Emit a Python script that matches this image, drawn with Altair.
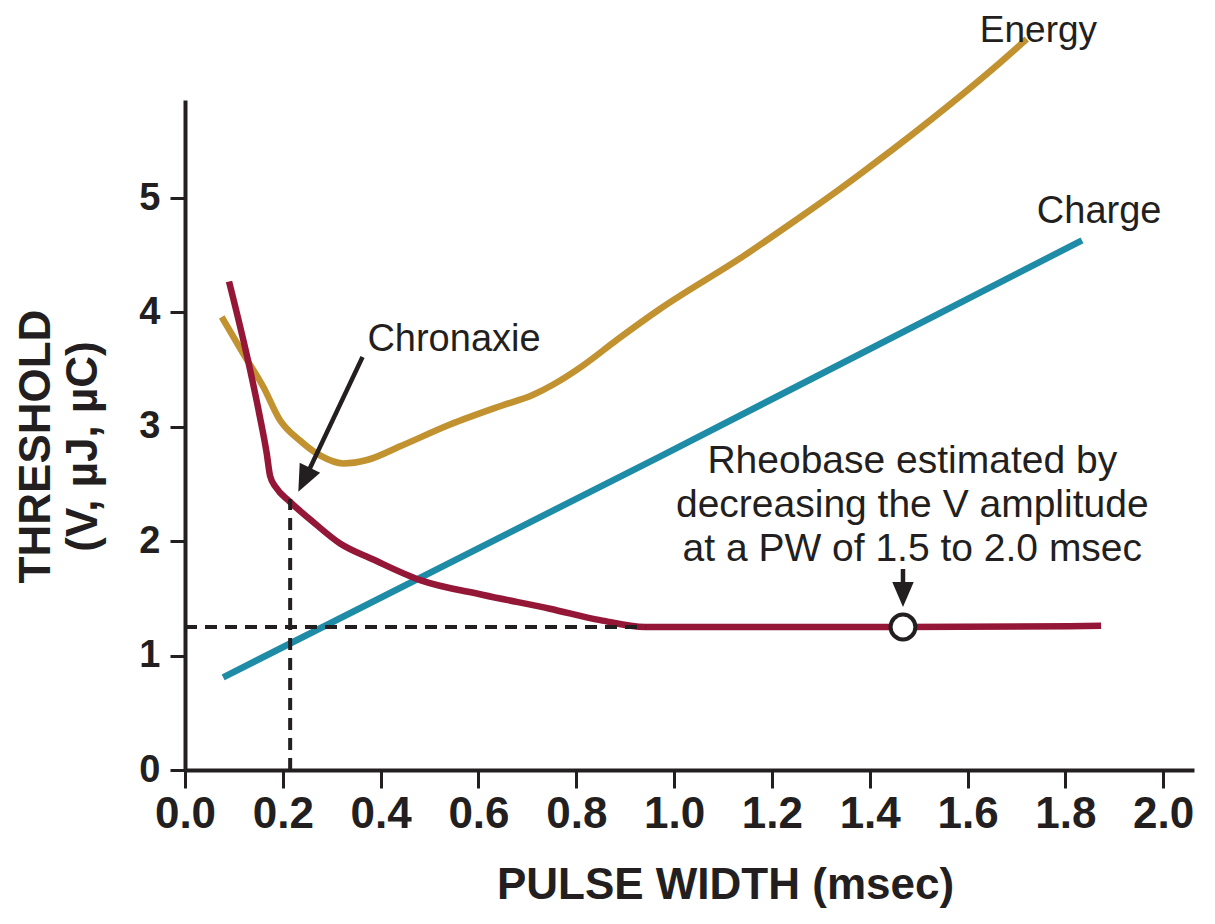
import altair as alt
import pandas as pd

# ---- data ----
volt_pw = [0.090, 0.133, 0.153, 0.167, 0.174, 0.186, 0.213, 0.256, 0.317, 0.385,
           0.481, 0.610, 0.746, 0.849, 0.941, 1.200, 1.468, 1.873]
volt_thr = [4.27, 3.50, 3.09, 2.77, 2.57, 2.47, 2.35, 2.19, 1.98, 1.84,
            1.66, 1.53, 1.41, 1.31, 1.25, 1.25, 1.25, 1.26]

energy_pw = [0.075, 0.119, 0.160, 0.194, 0.235, 0.276, 0.324, 0.372, 0.440, 0.542,
             0.644, 0.712, 0.753, 0.815, 0.883, 0.971, 1.141, 1.250, 1.323, 1.374,
             1.506, 1.652, 1.721]
energy_thr = [3.96, 3.64, 3.35, 3.06, 2.88, 2.75, 2.68, 2.71, 2.83, 3.02,
              3.18, 3.28, 3.37, 3.54, 3.76, 4.03, 4.49, 4.81, 5.03, 5.19,
              5.62, 6.13, 6.39]

charge_pw = [0.078, 0.971, 1.834]
charge_thr = [0.81, 2.74, 4.63]

series_names = ["Energy", "Charge", "Voltage"]
series_colors = ["#C1922F", "#1E8BA7", "#951737"]

x_ticks = [0.0, 0.2, 0.4, 0.6, 0.8, 1.0, 1.2, 1.4, 1.6, 1.8, 2.0]
y_ticks = [0, 1, 2, 3, 4, 5]

# chronaxie / rheobase reference values
chronaxie_pw = 0.215
chronaxie_thr = 2.37
rheobase_thr = 1.25
rheobase_pw_end = 0.941
rheobase_marker_pw = 1.468

# annotation anchors (data units)
label_text = ["Chronaxie", "Energy", "Charge"]
label_pw = [0.550, 1.745, 1.869]
label_thr = [3.66, 6.364, 4.78]
label_size = [38, 37, 38]

rheo_lines = ["Rheobase estimated by", "decreasing the V amplitude", "at a PW of 1.5 to 2.0 msec"]
rheo_text_pw = 1.487
rheo_text_thr = 2.867

arrow_start_pw = [0.363, 1.468]
arrow_start_thr = [3.61, 1.757]
arrow_shaft_end_pw = [0.244, 1.468]
arrow_shaft_end_thr = [2.535, 1.52]
arrow_tip_pw = [0.2317, 1.468]
arrow_tip_thr = [2.433, 1.425]
arrow_angle = [26, 0]
arrow_size = [2809, 2500]

# ---- frames ----
lines_df = pd.DataFrame({
    "pw": energy_pw + charge_pw + volt_pw,
    "thr": energy_thr + charge_thr + volt_thr,
    "series": ["Energy"] * len(energy_pw) + ["Charge"] * len(charge_pw) + ["Voltage"] * len(volt_pw),
    "ord": list(range(len(energy_pw))) + list(range(len(charge_pw))) + list(range(len(volt_pw))),
})

dash_df = pd.DataFrame({
    "x0": [chronaxie_pw, 0.0],
    "x1": [chronaxie_pw, rheobase_pw_end],
    "y0": [0.0, rheobase_thr],
    "y1": [chronaxie_thr, rheobase_thr],
})

shaft_df = pd.DataFrame({
    "x0": arrow_start_pw, "x1": arrow_shaft_end_pw,
    "y0": arrow_start_thr, "y1": arrow_shaft_end_thr,
})

head_df = pd.DataFrame({"pw": arrow_tip_pw, "thr": arrow_tip_thr,
                        "ang": arrow_angle, "sz": arrow_size})

marker_df = pd.DataFrame({"pw": [rheobase_marker_pw], "thr": [rheobase_thr]})
labels_df = pd.DataFrame({"pw": label_pw, "thr": label_thr, "txt": label_text, "fs": label_size})
rheo_df = pd.DataFrame({"pw": [rheo_text_pw], "thr": [rheo_text_thr], "txt": ["\n".join(rheo_lines)]})

FONT = "Liberation Sans, Arial, Helvetica, sans-serif"
INK = "#231f20"

x_scale = alt.Scale(domain=[0, 2.063], nice=False, zero=False)
y_scale = alt.Scale(domain=[0, 5.857], nice=False, zero=False)

x_axis = alt.Axis(
    values=x_ticks, format=".1f", title="PULSE WIDTH (msec)", grid=False,
    domainColor=INK, domainWidth=4, tickColor=INK, tickWidth=3, tickSize=18,
    labelFont=FONT, labelFontSize=44, labelFontWeight="bold", labelColor=INK,
    labelPadding=4, labelFlush=False, labelOverlap=False,
    titleFont=FONT, titleFontSize=44, titleFontWeight="bold", titleColor=INK,
    titleX=540, titleY=128, titleBaseline="alphabetic", titleAlign="center",
)
y_axis = alt.Axis(
    values=y_ticks, format="d", title=["THRESHOLD", "(V, µJ, µC)"], grid=False,
    domainColor=INK, domainWidth=4, tickColor=INK, tickWidth=3, tickSize=15,
    labelFont=FONT, labelFontSize=38, labelFontWeight="bold", labelColor=INK,
    labelPadding=10, labelFlush=False, labelOverlap=False,
    titleFont=FONT, titleFontSize=44, titleFontWeight="bold", titleColor=INK,
    titleAngle=270, titleX=-171, titleY=346, titleBaseline="top", titleAlign="center",
    titleLineHeight=47,
)

base = alt.Chart(lines_df)

curves = base.mark_line(strokeWidth=6.5, interpolate="monotone").encode(
    x=alt.X("pw:Q", scale=x_scale, axis=x_axis),
    y=alt.Y("thr:Q", scale=y_scale, axis=y_axis),
    color=alt.Color("series:N", scale=alt.Scale(domain=series_names, range=series_colors), legend=None),
    order="ord:Q",
)

dashes = alt.Chart(dash_df).mark_rule(strokeWidth=4, strokeDash=[12, 8], color=INK).encode(
    x=alt.X("x0:Q", scale=x_scale), x2="x1:Q",
    y=alt.Y("y0:Q", scale=y_scale), y2="y1:Q",
)

shafts = alt.Chart(shaft_df).mark_rule(strokeWidth=4.5, color=INK).encode(
    x=alt.X("x0:Q", scale=x_scale), x2="x1:Q",
    y=alt.Y("y0:Q", scale=y_scale), y2="y1:Q",
)

heads = alt.Chart(head_df).mark_point(
    shape="M0,0L-0.43,-1L0.43,-1Z", filled=True, color=INK, opacity=1, strokeWidth=0
).encode(
    x=alt.X("pw:Q", scale=x_scale),
    y=alt.Y("thr:Q", scale=y_scale),
    angle=alt.Angle("ang:Q", scale=None),
    size=alt.Size("sz:Q", scale=None),
)

marker = alt.Chart(marker_df).mark_point(
    shape="circle", size=616, filled=True, fill="white", stroke=INK, strokeWidth=4, opacity=1
).encode(
    x=alt.X("pw:Q", scale=x_scale),
    y=alt.Y("thr:Q", scale=y_scale),
)

labels = alt.Chart(labels_df).mark_text(
    font=FONT, color=INK, align="center", baseline="alphabetic"
).encode(
    x=alt.X("pw:Q", scale=x_scale),
    y=alt.Y("thr:Q", scale=y_scale),
    text="txt:N",
    size=alt.Size("fs:Q", scale=None),
)

rheo = alt.Chart(rheo_df).mark_text(
    font=FONT, fontSize=39, color=INK, align="center", baseline="top",
    lineBreak="\n", lineHeight=44
).encode(
    x=alt.X("pw:Q", scale=x_scale),
    y=alt.Y("thr:Q", scale=y_scale),
    text="txt:N",
)

chart = alt.layer(curves, dashes, shafts, heads, marker, labels, rheo).properties(
    width=1009, height=670,
    autosize=alt.AutoSizeParams(type="none"),
    padding={"left": 177, "top": 92, "right": 10, "bottom": 140},
    background="white",
).configure_view(strokeOpacity=0)

chart.save("out.html", embed_options={"renderer": "svg", "actions": False})
